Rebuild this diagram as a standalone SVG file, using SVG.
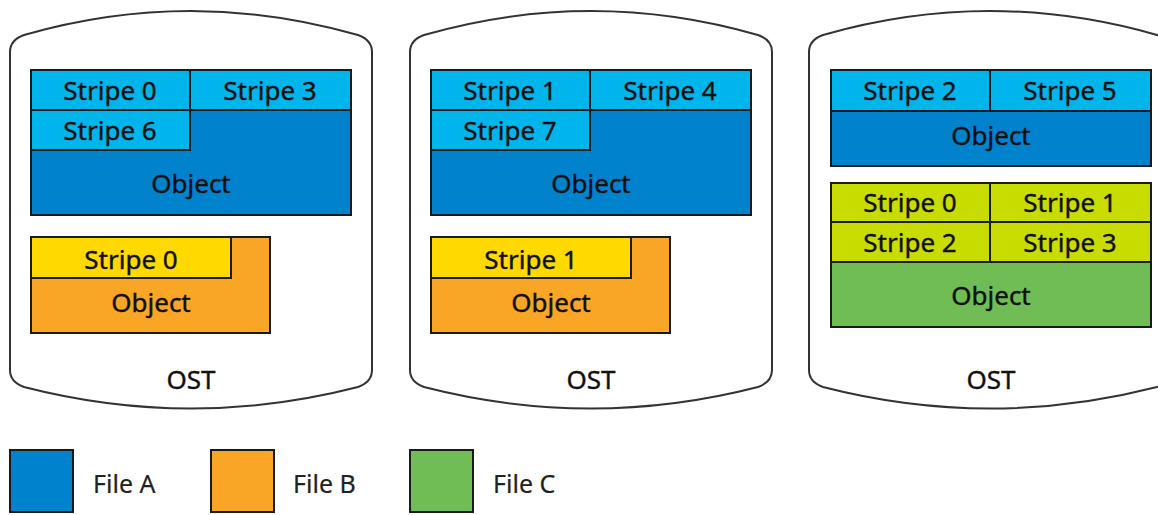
<svg xmlns="http://www.w3.org/2000/svg" width="1158" height="515" viewBox="0 0 1158 515">
<style>
.cyl{fill:#fff;stroke:#333;stroke-width:2}
.box{stroke:#1a1a1a;stroke-width:2}
.sa{fill:#00B5EC}
.oa{fill:#0083CC}
.sb{fill:#FFD900}
.ob{fill:#F9A526}
.sc{fill:#C9DC00}
.oc{fill:#70BD55}
text{font-family:"Noto Sans","Open Sans",sans-serif;font-size:26px;fill:#111;stroke:#111;stroke-width:0.4;text-anchor:middle}
.lg{text-anchor:start;fill:#222;stroke:#222;stroke-width:0.2;font-size:25px}
</style>
<defs>
<path id="cylp" d="M10,370 L10,52 Q10,40 24,35 Q191,-13 358,35 Q372,40 372,52 L372,370 Q372,382 358,387 Q191,430 24,387 Q10,382 10,370 Z"/>
</defs>
<g id="ost1">
<use href="#cylp" class="cyl"/>
<rect class="box oa" x="31" y="70" width="320" height="145"/>
<rect class="box sa" x="31" y="70" width="159" height="40"/>
<rect class="box sa" x="190" y="70" width="161" height="40"/>
<rect class="box sa" x="31" y="110" width="159" height="40"/>
<text x="110" y="100">Stripe 0</text>
<text x="270" y="100">Stripe 3</text>
<text x="110" y="140">Stripe 6</text>
<text x="191" y="193">Object</text>
<rect class="box ob" x="31" y="237" width="239" height="96"/>
<rect class="box sb" x="31" y="237" width="200" height="41"/>
<text x="131" y="269">Stripe 0</text>
<text x="151" y="312">Object</text>
<text x="191" y="389">OST</text>
</g>
<g id="ost2" transform="translate(400,0)">
<use href="#cylp" class="cyl"/>
<rect class="box oa" x="31" y="70" width="320" height="145"/>
<rect class="box sa" x="31" y="70" width="159" height="40"/>
<rect class="box sa" x="190" y="70" width="161" height="40"/>
<rect class="box sa" x="31" y="110" width="159" height="40"/>
<text x="110" y="100">Stripe 1</text>
<text x="270" y="100">Stripe 4</text>
<text x="110" y="140">Stripe 7</text>
<text x="191" y="193">Object</text>
<rect class="box ob" x="31" y="237" width="239" height="96"/>
<rect class="box sb" x="31" y="237" width="200" height="41"/>
<text x="131" y="269">Stripe 1</text>
<text x="151" y="312">Object</text>
<text x="191" y="389">OST</text>
</g>
<g id="ost3" transform="translate(799,0)">
<use href="#cylp" class="cyl"/>
<rect class="box oa" x="32" y="70" width="320" height="96"/>
<rect class="box sa" x="32" y="70" width="159" height="41"/>
<rect class="box sa" x="191" y="70" width="161" height="41"/>
<text x="111" y="100">Stripe 2</text>
<text x="271" y="100">Stripe 5</text>
<text x="192" y="145">Object</text>
<rect class="box oc" x="32" y="183" width="320" height="144"/>
<rect class="box sc" x="32" y="183" width="159" height="39"/>
<rect class="box sc" x="191" y="183" width="161" height="39"/>
<rect class="box sc" x="32" y="222" width="159" height="40"/>
<rect class="box sc" x="191" y="222" width="161" height="40"/>
<text x="111" y="212">Stripe 0</text>
<text x="271" y="212">Stripe 1</text>
<text x="111" y="252">Stripe 2</text>
<text x="271" y="252">Stripe 3</text>
<text x="192" y="305">Object</text>
<text x="192" y="389">OST</text>
</g>
<g id="legend">
<rect class="box oa" x="10" y="450" width="63" height="62"/>
<text class="lg" x="93" y="493">File A</text>
<rect class="box ob" x="211" y="450" width="63" height="62"/>
<text class="lg" x="293" y="493">File B</text>
<rect class="box oc" x="410" y="450" width="63" height="62"/>
<text class="lg" x="493" y="493">File C</text>
</g>
</svg>
